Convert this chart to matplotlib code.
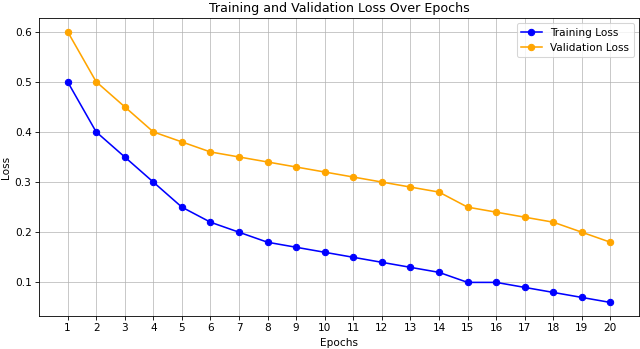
import matplotlib
matplotlib.use("Agg")
import matplotlib.pyplot as plt

epochs = list(range(1, 21))
train_loss = [0.5, 0.4, 0.35, 0.3, 0.25, 0.22, 0.2, 0.18, 0.17, 0.16,
              0.15, 0.14, 0.13, 0.12, 0.1, 0.1, 0.09, 0.08, 0.07, 0.06]
val_loss = [0.6, 0.5, 0.45, 0.4, 0.38, 0.36, 0.35, 0.34, 0.33, 0.32,
            0.31, 0.3, 0.29, 0.28, 0.25, 0.24, 0.23, 0.22, 0.2, 0.18]

dpi = 76
fig, ax = plt.subplots(figsize=(640/dpi, 349/dpi), dpi=dpi)
ax.plot(epochs, train_loss, 'o-', color='blue', label='Training Loss')
ax.plot(epochs, val_loss, 'o-', color='orange', label='Validation Loss')
ax.set_title('Training and Validation Loss Over Epochs')
ax.set_xlabel('Epochs')
ax.set_ylabel('Loss')
ax.set_xticks(epochs)
ax.set_xlim(0, 21)
ax.grid(True, color='#b0b0b0', alpha=0.8)
ax.legend(loc='upper right')
fig.subplots_adjust(left=39/640, right=639/640, top=1-18/349, bottom=1-316/349)
fig.savefig('out.png', dpi=dpi)
